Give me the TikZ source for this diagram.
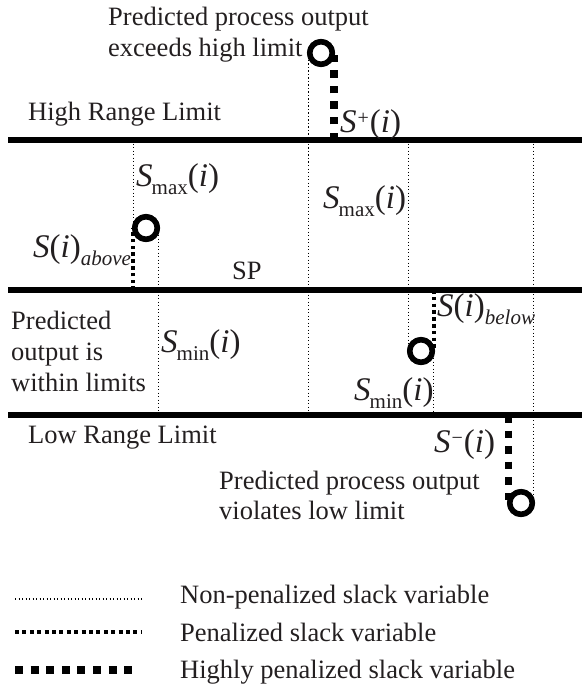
\documentclass[tikz,border=0pt]{standalone}
\usepackage{fontspec}
\setmainfont{Liberation Serif}
\definecolor{txt}{RGB}{35,31,32}
\newcommand{\bS}{{\fontsize{33}{33}\selectfont\itshape S}}
\newcommand{\argi}{{\fontsize{33}{33}\selectfont(\textit{i})}}
\newcommand{\lsub}[1]{\raisebox{-8pt}{\fontsize{21}{21}\selectfont #1}}
\newcommand{\hsup}[1]{\raisebox{8pt}{\fontsize{20}{20}\selectfont #1}}
\tikzset{
  limit/.style={line width=6pt},
  nonpen/.style={line width=1.3pt, dash pattern=on 1.3pt off 2.2pt},
  pen/.style={line width=3.8pt, dash pattern=on 3.6pt off 3.2pt},
  penkey/.style={line width=4pt, dash pattern=on 4pt off 3.4pt},
  hipen/.style={line width=7.5pt, dash pattern=on 7.5pt off 8pt},
  hipenkey/.style={line width=8pt, dash pattern=on 8pt off 7.6pt},
  pt/.style={circle, draw, line width=5.5pt, minimum size=22.5pt, inner sep=0pt, outer sep=1.5pt, fill=white},
  lbl/.style={inner sep=0pt, anchor=base west, text=txt, font=\fontsize{26.5}{31}\selectfont},
  mlbl/.style={inner sep=0pt, anchor=base west, text=txt},
}
\begin{document}
\begin{tikzpicture}[x=1pt,y=-1pt]
\useasboundingbox (0,0) rectangle (582,690);
% limit lines
\coordinate (hl0) at (8,140);  \coordinate (hl1) at (582,140);
\coordinate (sp0) at (8,290);  \coordinate (sp1) at (582,290);
\coordinate (ll0) at (8,415);  \coordinate (ll1) at (582,415);
\draw[limit] (hl0) -- (hl1);
\draw[limit] (sp0) -- (sp1);
\draw[limit] (ll0) -- (ll1);
% predicted outputs
\node[pt] (c0) at (321,53) {};
\node[pt] (c1) at (146,228) {};
\node[pt] (c2) at (421,351) {};
\node[pt] (c3) at (521,503) {};
% slack connectors
\draw[nonpen] (c0.west) -- (c0.west |- ll0);
\draw[hipen] (c0.east |- hl0) -- (c0.east);
\draw[nonpen] (c1.west |- hl0) -- (c1.west);
\draw[pen] (c1.west |- sp0) -- (c1.west);
\draw[nonpen] (c1.east) -- (c1.east |- ll0);
\draw[nonpen] (c2.west |- hl0) -- (c2.west);
\draw[pen] (c2.east |- sp0) -- (c2.east);
\draw[nonpen] (c2.east) -- (c2.east |- ll0);
\draw[hipen] (c3.west |- ll0) -- (c3.west);
\draw[nonpen] (c3.east |- hl0) -- (c3.east);
% circles on top
\node[pt] at (c0) {};
\node[pt] at (c1) {};
\node[pt] at (c2) {};
\node[pt] at (c3) {};
% texts
\node[lbl] (t1) at (108,26) {Predicted process output};
\node[lbl] (t2) at (108,57) {exceeds high limit};
\node[lbl] (thl) at (28,121) {High Range Limit};
\node[lbl] (tsp) at (232,279) {SP};
\node[lbl] (tw1) at (11,329) {Predicted};
\node[lbl] (tw2) at (11,360) {output is};
\node[lbl] (tw3) at (11,391) {within limits};
\node[lbl] (tll) at (28,443) {Low Range Limit};
\node[lbl] (tb1) at (219,489) {Predicted process output};
\node[lbl] (tb2) at (219,519) {violates low limit};
% math labels
\node[mlbl] (splus) at (340,132) {\bS\kern1pt\hsup{+}\kern1pt\argi};
\node[mlbl] (smax1) at (136,186) {\bS\kern-1pt\lsub{max}\argi};
\node[mlbl] (smax2) at (323,208) {\bS\kern-1pt\lsub{max}\argi};
\node[mlbl] (sabove) at (33,257) {\bS\argi\lsub{\itshape above}};
\node[mlbl] (sbelow) at (437,316) {\bS\argi\lsub{\itshape below}};
\node[mlbl] (smin1) at (161,352) {\bS\kern-1pt\lsub{min}\argi};
\node[mlbl] (smin2) at (354,400) {\bS\kern-1pt\lsub{min}\argi};
\node[mlbl] (sminus) at (434,452) {\bS\kern1pt\hsup{−}\kern1pt\argi};
% legend
\coordinate (k1a) at (15,599); \coordinate (k1b) at (142,599);
\coordinate (k2a) at (15,632); \coordinate (k2b) at (141,632);
\coordinate (k3a) at (15,670); \coordinate (k3b) at (138,670);
\draw[nonpen] (k1a) -- (k1b);
\draw[penkey] (k2a) -- (k2b);
\draw[hipenkey] (k3a) -- (k3b);
\node[lbl] (lg1) at (180,603) {Non-penalized slack variable};
\node[lbl] (lg2) at (180,641) {Penalized slack variable};
\node[lbl] (lg3) at (180,678) {Highly penalized slack variable};
\end{tikzpicture}
\end{document}
